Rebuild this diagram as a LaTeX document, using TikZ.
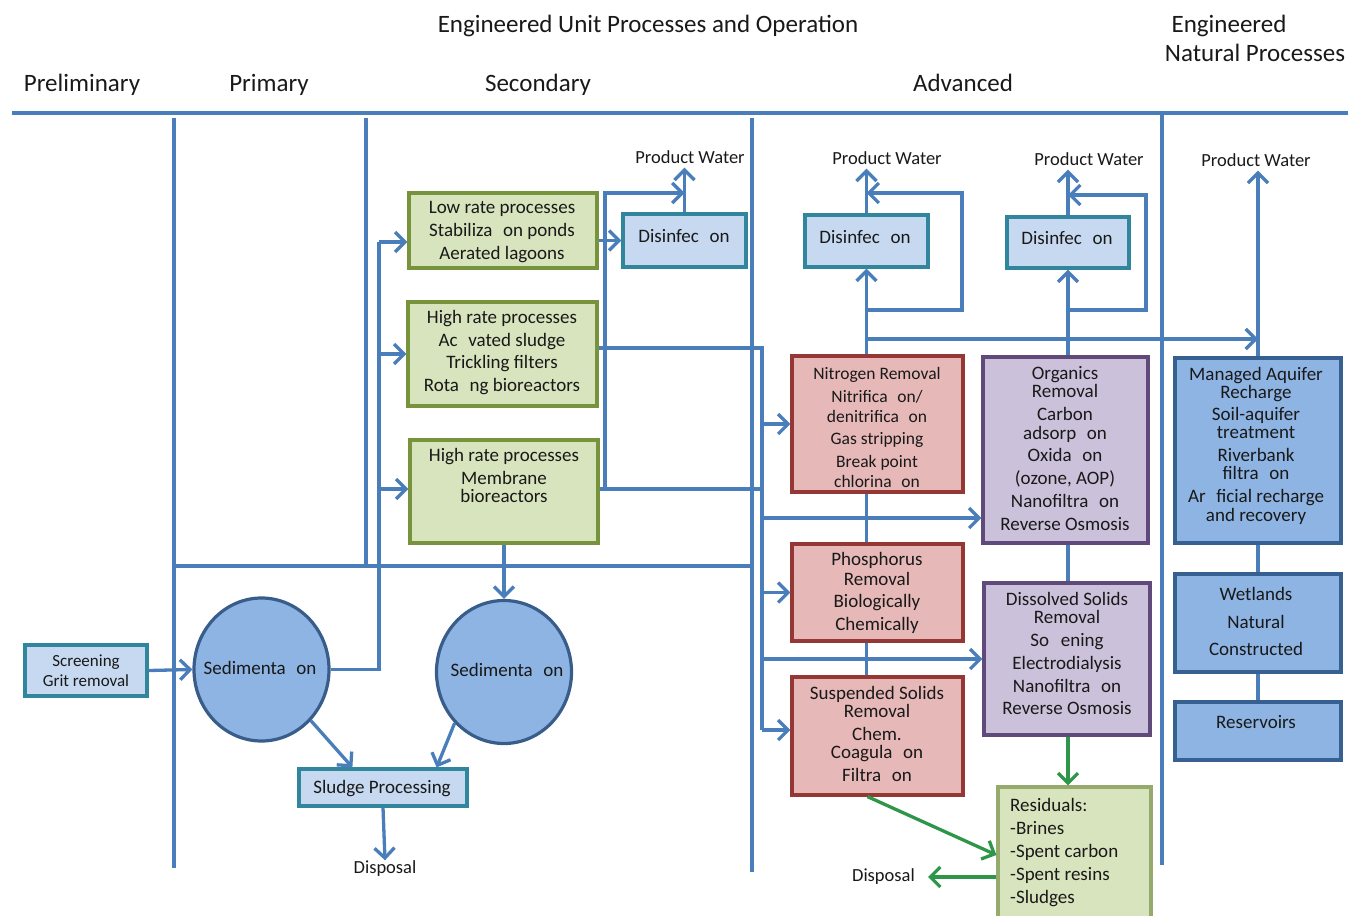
\documentclass[tikz,border=0pt]{standalone}
\usepackage{fontspec}
\setmainfont{Carlito}
\usetikzlibrary{arrows.meta,shapes.geometric,calc}
\definecolor{lb}{RGB}{74,126,187}
\definecolor{gf}{RGB}{215,228,189}
\definecolor{gd}{RGB}{119,147,60}
\definecolor{df}{RGB}{198,217,241}
\definecolor{dd}{RGB}{49,133,156}
\definecolor{rf}{RGB}{230,185,184}
\definecolor{rd}{RGB}{149,55,53}
\definecolor{pf}{RGB}{204,193,218}
\definecolor{pd}{RGB}{96,74,123}
\definecolor{bf}{RGB}{142,180,227}
\definecolor{bd}{RGB}{55,96,146}
\definecolor{resd}{RGB}{150,170,110}
\definecolor{ga}{RGB}{46,150,72}
\definecolor{tx}{RGB}{25,25,25}
\newcommand{\tgap}{\phantom{ti}}
\tikzset{
  box/.style={rectangle, line width=3.2pt, inner sep=0pt},
  gbox/.style={box, fill=gf, draw=gd},
  dbox/.style={box, fill=df, draw=dd},
  rbox/.style={box, fill=rf, draw=rd},
  pbox/.style={box, fill=pf, draw=pd},
  bbox/.style={box, fill=bf, draw=bd},
  sedell/.style={ellipse, line width=3.2pt, fill=bf, draw={rgb,255:red,56;green,93;blue,138}, inner sep=0pt, minimum width=135pt, minimum height=143pt},
  txt/.style={font=\fontsize{19}{23}\selectfont, align=center, inner sep=0pt, text=tx, yshift=-2pt},
  hdr/.style={font=\fontsize{25}{29}\selectfont, inner sep=0pt, text=tx, text height=17pt, text depth=5pt, yshift=-3pt},
  lab/.style={font=\fontsize{18.5}{22}\selectfont, inner sep=0pt, text=tx, text height=13pt, text depth=4pt, yshift=-2pt},
  conn/.style={draw=lb, line width=3.3pt},
  arr/.style={conn, -{Straight Barb[length=10pt,width=20pt]}},
  garr/.style={draw=ga, line width=3.3pt, -{Straight Barb[length=10pt,width=20pt]}},
  gline/.style={draw=ga, line width=3.3pt}
}
\begin{document}
\begin{tikzpicture}[x=1pt,y=-1pt]
\useasboundingbox (0,0) rectangle (1348,915);
\clip (0,0) rectangle (1348,915);

% headers
\node[hdr] (h0) at (648,24) {Engineered Unit Processes and Operation};
\node[hdr] (h1) at (1229,24) {Engineered};
\node[hdr] (h2) at (1255,53) {Natural Processes};
\node[hdr] (h3) at (82,83) {Preliminary};
\node[hdr] (h4) at (269,83) {Primary};
\node[hdr] (h5) at (538,83) {Secondary};
\node[hdr] (h6) at (963,83) {Advanced};

% frame lines
\coordinate (tl) at (12,113);
\coordinate (tr) at (1348,113);
\draw[conn] (tl) -- (tr);
\coordinate (v1a) at (174,118); \coordinate (v1b) at (174,868);
\coordinate (v2a) at (366,118); \coordinate (v2b) at (366,566);
\coordinate (hza) at (174,566); \coordinate (hzb) at (752,566);
\coordinate (v3a) at (752,118); \coordinate (v3b) at (752,872);
\coordinate (v4a) at (1162,112); \coordinate (v4b) at (1162,865);
\draw[conn] (v1a) -- (v1b);
\draw[conn] (v2a) -- (v2b);
\draw[conn] (hza) -- (hzb);
\draw[conn] (v3a) -- (v3b);
\draw[conn] (v4a) -- (v4b);

% boxes
\node[dbox, minimum width=122pt, minimum height=51pt] (scr) at (86,670.5) {};
\node[txt, font=\fontsize{17}{20}\selectfont] (scrT) at (86,669) {Screening\\Grit removal};
\node[sedell] (sed1) at (261.5,669.5) {};
\node[txt] (sed1T) at (260,666) {Sedimenta\tgap{}on};
\node[sedell] (sed2) at (504,672) {};
\node[txt] (sed2T) at (507,668) {Sedimenta\tgap{}on};
\node[dbox, minimum width=168pt, minimum height=37pt] (sludge) at (383,787.5) {};
\node[txt] (sludgeT) at (382,787) {Sludge Processing};
\node[lab] (disp1) at (385,867) {Disposal};

\node[gbox, minimum width=188pt, minimum height=75pt] (low) at (503,230.5) {};
\node[txt] (lowT) at (502,230) {Low rate processes\\Stabiliza\tgap{}on ponds\\Aerated lagoons};
\node[gbox, minimum width=189pt, minimum height=104pt] (high) at (502.5,354) {};
\node[txt] (highT) at (502,351) {High rate processes\\Ac\tgap{}vated sludge\\[-1pt]Trickling filters\\Rota\tgap{}ng bioreactors};
\node[gbox, minimum width=188pt, minimum height=103pt] (mbr) at (504,491.5) {};
\node[txt] (mbrT) at (504,473.5) {High rate processes\\Membrane\\[-5pt]bioreactors};

\node[dbox, minimum width=123pt, minimum height=53pt] (dis1) at (684.5,240.5) {};
\node[txt] (dis1T) at (684,234) {Disinfec\tgap{}on};
\node[dbox, minimum width=123pt, minimum height=52pt] (dis2) at (866.5,241) {};
\node[txt] (dis2T) at (865,235) {Disinfec\tgap{}on};
\node[dbox, minimum width=122pt, minimum height=51pt] (dis3) at (1068,242.5) {};
\node[txt] (dis3T) at (1067,236) {Disinfec\tgap{}on};

\node[lab] (pw1) at (690,157) {Product Water};
\node[lab] (pw2) at (887,158) {Product Water};
\node[lab] (pw3) at (1089,159) {Product Water};
\node[lab] (pw4) at (1256,160) {Product Water};

\node[rbox, minimum width=171pt, minimum height=136pt] (nit) at (877.5,424) {};
\node[txt, font=\fontsize{17.5}{22}\selectfont] (nitT) at (877,425) {Nitrogen Removal\\[1pt]Nitrifica\tgap{}on/\\[-2pt]denitrifica\tgap{}on\\Gas stripping\\[1pt]Break point\\[-2pt]chlorina\tgap{}on};
\node[rbox, minimum width=171pt, minimum height=97pt] (pho) at (877.5,592.5) {};
\node[txt] (phoT) at (877,590.5) {Phosphorus\\[-3pt]Removal\\[-1pt]Biologically\\Chemically};
\node[rbox, minimum width=171pt, minimum height=118pt] (sus) at (877.5,736) {};
\node[txt] (susT) at (877,732) {Suspended Solids\\[-5pt]Removal\\Chem.\\[-5pt]Coagula\tgap{}on\\Filtra\tgap{}on};

\node[pbox, minimum width=165pt, minimum height=186pt] (org) at (1065.5,450) {};
\node[txt] (orgT) at (1065,446.5) {Organics\\[-5pt]Removal\\Carbon\\[-4pt]adsorp\tgap{}on\\[-1pt]Oxida\tgap{}on\\(ozone, AOP)\\Nanofiltra\tgap{}on\\Reverse Osmosis};
\node[pbox, minimum width=166pt, minimum height=152pt] (dss) at (1067,659) {};
\node[txt] (dssT) at (1067,651.5) {Dissolved Solids\\[-5pt]Removal\\So\phantom{ft}ening\\Electrodialysis\\Nanofiltra\tgap{}on\\[-1pt]Reverse Osmosis};
\node[box, fill=gf, draw=resd, minimum width=153pt, minimum height=136pt] (res) at (1074.5,855) {};
\node[txt, align=left, anchor=west] (resT) at (1010,851) {Residuals:\\-Brines\\-Spent carbon\\-Spent resins\\-Sludges};
\node[lab, anchor=east] (disp2) at (915,875) {Disposal};

\node[bbox, minimum width=166pt, minimum height=185pt] (mar) at (1258,450.5) {};
\node[txt] (marT) at (1256,443.5) {Managed Aquifer\\[-5pt]Recharge\\[-1pt]Soil-aquifer\\[-5pt]treatment\\Riverbank\\[-5pt]filtra\tgap{}on\\Ar\tgap{}ficial recharge\\[-4pt]and recovery};
\node[bbox, minimum width=166pt, minimum height=98pt] (wet) at (1258,623) {};
\node[txt] (wetT) at (1256,619.5) {Wetlands\\[4.5pt]Natural\\[4.5pt]Constructed};
\node[bbox, minimum width=166pt, minimum height=58pt] (rsv) at (1258,731) {};
\node[txt] (rsvT) at (1256,720) {Reservoirs};

% preliminary / primary connectors
\draw[arr] (scr.east) -- (sed1.west);
\coordinate (b1) at (379,242);
\coordinate (b2) at (379,354);
\coordinate (b3) at (379,489);
\coordinate (s1r) at (379,669.5);
\draw[conn] (sed1.east) -- (s1r) -- (b1);
\draw[arr] (b1) -- (b1 -| low.west);
\draw[arr] (b2) -- (b2 -| high.west);
\draw[arr] (b3) -- (b3 -| mbr.west);
\draw[arr] (mbr.south) -- (sed2.north);
\draw[arr] (sed1.-46) -- ([xshift=55pt]sludge.north west);
\draw[arr] (sed2.-134) -- ([xshift=-32pt]sludge.north east);
\draw[arr] (sludge.south) -- (disp1.north);

% secondary outputs
\draw[arr] (low.east |- dis1.west) -- (dis1.west);
\draw[arr] (dis1.north) -- (dis1.north |- pw1.south);
\coordinate (trk) at (762,348);
\coordinate (trkB) at (762,730);
\coordinate (byA) at (605,489);
\coordinate (byB) at (605,193);
\draw[conn] ([yshift=6pt]high.east) -- (trk) -- (trkB);
\draw[conn] ([yshift=2.5pt]mbr.east) -- (trk |- byA);
\draw[arr] (byA) -- (byB) -- (dis1.north |- byB);

% advanced feeds
\draw[arr] (trk |- nit.west) -- (nit.west);
\draw[arr] ([yshift=-68pt]org.west -| trk) -- ([yshift=-68pt]org.west);
\draw[arr] (trk |- pho.west) -- (pho.west);
\draw[arr] (trk |- dss.west) -- (dss.west);
\draw[arr] (trkB) -- (trkB -| sus.west);

% nitrogen chain
\draw[conn] (dis2.south |- nit.south) -- (dis2.south |- pho.north);
\draw[conn] (dis2.south |- pho.south) -- (dis2.south |- sus.north);
\draw[arr] (dis2.south |- nit.north) -- (dis2.south);
\draw[arr] (dis2.north) -- (dis2.north |- pw2.south);
\coordinate (n1) at (866,310); \coordinate (n2) at (962,310); \coordinate (n3) at (962,193);
\draw[arr] (n1) -- (n2) -- (n3) -- (dis2.north |- n3);
\coordinate (n4) at (866,339);
\draw[arr] (n4) -- (mar.north |- n4);

% organics chain
\draw[arr] (dis3.south |- org.north) -- (dis3.south);
\draw[arr] (dis3.north) -- (dis3.north |- pw3.south);
\coordinate (o1) at (1068,310); \coordinate (o2) at (1146,310); \coordinate (o3) at (1146,195);
\draw[arr] (o1) -- (o2) -- (o3) -- (dis3.north |- o3);
\draw[conn] (dis3.south |- org.south) -- (dis3.south |- dss.north);
\draw[garr] (dis3.south |- dss.south) -- (dis3.south |- res.north);
\draw[garr] ([xshift=-10pt]sus.south) -- (res.west);
\coordinate (rd) at ([yshift=-22pt]res.west);
\draw[garr] (rd) -- ([xshift=13pt]disp2.east |- rd);

% natural processes
\draw[arr] (mar.north) -- (mar.north |- pw4.south);
\draw[conn] (mar.south) -- (wet.north);
\draw[conn] (wet.south) -- (rsv.north);
\end{tikzpicture}
\end{document}
